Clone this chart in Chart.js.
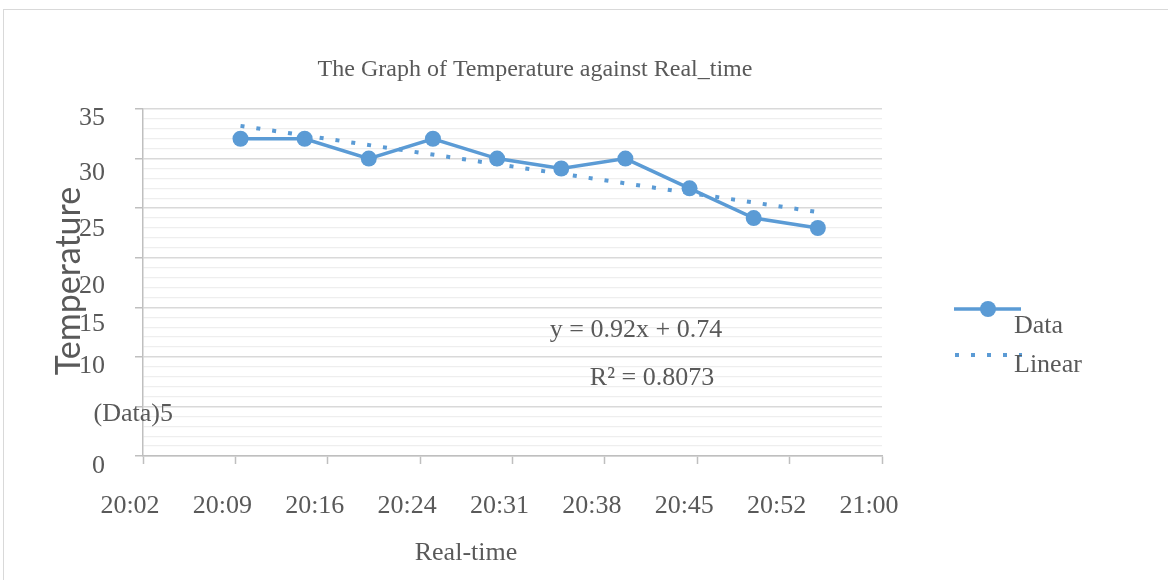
<!DOCTYPE html>
<html>
<head>
<meta charset="utf-8">
<script src="https://cdn.jsdelivr.net/npm/chart.js@4.4.1/dist/chart.umd.min.js"></script>
<style>
    body { margin: 0; background: #fff; overflow: hidden; }
    #wrap { position: relative; width: 1168px; height: 580px; }
    #frame { position: absolute; left: 3px; top: 9px; width: 1200px; height: 600px; border: 1px solid #d9d9d9; }
</style>
</head>
<body>
<div id="wrap">
    <div id="frame"></div>
    <canvas id="myChart"></canvas>
</div>
<script>
// data
const times = ['20:10', '20:15', '20:20', '20:25', '20:30', '20:35', '20:40', '20:45', '20:50', '20:55'];
const temperature = [32, 32, 30, 32, 30, 29, 30, 27, 24, 23];
const trendTimes = ['20:10', '20:55'];
const trendValues = [33.3, 24.6];
const xTickLabels = ['20:02', '20:09', '20:16', '20:24', '20:31', '20:38', '20:45', '20:52', '21:00'];
const yTickValues = [0, 5, 10, 15, 20, 25, 30, 35];
const yTickLabels = ['0', '(Data)5', '10', '15', '20', '25', '30', '35'];
const equationText = 'y = 0.92x + 0.74';
const r2Text = 'R² = 0.8073';

// label nudges (layout only)
const yLabelNudge = [[0, 10], [68, 8], [0, 9], [0, 17], [0, 28], [0, 21], [0, 15], [0, 9]];

const blue = '#5B9BD5';
const textGrey = '#595959';
const serif = '"Liberation Serif", "Times New Roman", serif';

function toMinutes(t) {
    const parts = t.split(':').map(Number);
    return (parts[0] - 20) * 60 + parts[1];
}

const xMin = 2.4, xMax = 60, xStep = 7.2;

const textPlugin = {
    id: 'texts',
    afterDraw(chart) {
        const ctx = chart.ctx;
        const yScale = chart.scales.y;
        ctx.save();
        ctx.fillStyle = textGrey;
        ctx.textBaseline = 'middle';

        // title
        ctx.font = '24px ' + serif;
        ctx.textAlign = 'center';
        ctx.fillText('The Graph of Temperature against Real_time', 535, 70);

        // x title
        ctx.font = '26px ' + serif;
        ctx.fillText('Real-time', 466, 553);

        // equation
        ctx.fillText(equationText, 636, 330);
        ctx.fillText(r2Text, 652, 378);

        // y tick labels
        ctx.textAlign = 'right';
        yTickValues.forEach((v, i) => {
            const py = yScale.getPixelForValue(v);
            ctx.fillText(yTickLabels[i], 105 + yLabelNudge[i][0], py + yLabelNudge[i][1]);
        });

        // y title
        ctx.save();
        ctx.translate(69, 281);
        ctx.rotate(-Math.PI / 2);
        ctx.textAlign = 'center';
        ctx.font = '34px Lato, "Open Sans", sans-serif';
        ctx.fillText('Temperature', 0, 0);
        ctx.restore();

        // legend
        const ds = chart.data.datasets;
        ctx.textAlign = 'left';
        ctx.font = '26px ' + serif;
        ctx.strokeStyle = blue;
        ctx.fillStyle = blue;
        ctx.lineWidth = 3.5;
        ctx.beginPath();
        ctx.moveTo(954, 309);
        ctx.lineTo(1021, 309);
        ctx.stroke();
        ctx.beginPath();
        ctx.arc(988, 309, 8, 0, Math.PI * 2);
        ctx.fill();
        ctx.lineWidth = 4;
        ctx.setLineDash([4, 12]);
        ctx.beginPath();
        ctx.moveTo(955, 355);
        ctx.lineTo(1022, 355);
        ctx.stroke();
        ctx.setLineDash([]);
        ctx.fillStyle = textGrey;
        ctx.fillText(ds[1].label, 1014, 326);
        ctx.fillText(ds[0].label, 1014, 365);
        ctx.restore();
    }
};

let ctx = document.getElementById('myChart').getContext('2d');

let myChart = new Chart(ctx, {
    type: 'line',
    data: {
        datasets: [{
                label: 'Linear',
                data: trendTimes.map((t, i) => ({ x: toMinutes(t), y: trendValues[i] })),
                borderColor: blue,
                backgroundColor: 'transparent',
                borderWidth: 4,
                borderDash: [4, 12],
                borderCapStyle: 'butt',
                pointRadius: 0,
                tension: 0,
            },
            {
                label: 'Data',
                data: times.map((t, i) => ({ x: toMinutes(t), y: temperature[i] })),
                borderColor: blue,
                backgroundColor: blue,
                borderWidth: 3.5,
                pointRadius: 8,
                pointBorderWidth: 0,
                pointBackgroundColor: blue,
                tension: 0,
            },
        ],
    },
    options: {
        responsive: true,
        maintainAspectRatio: false,
        animation: false,
        layout: {
            padding: { left: 0, top: 109, right: 286, bottom: 0 }
        },
        scales: {
            x: {
                type: 'linear',
                min: xMin,
                max: xMax,
                afterBuildTicks: function(scale) {
                    scale.ticks = xTickLabels.map((l, i) => ({ value: xMin + i * xStep }));
                },
                afterFit: function(scale) {
                    scale.height = 124;
                },
                grid: {
                    drawOnChartArea: false,
                    tickLength: 8,
                    tickColor: '#BFBFBF',
                    tickWidth: 1.5,
                },
                border: { color: '#BFBFBF', width: 1.5 },
                ticks: {
                    autoSkip: false,
                    maxRotation: 0,
                    labelOffset: -13,
                    padding: 27,
                    color: textGrey,
                    font: { family: serif, size: 26 },
                    callback: function(value, index) {
                        return xTickLabels[index];
                    }
                }
            },
            y: {
                min: 0,
                max: 35,
                afterBuildTicks: function(scale) {
                    const t = [];
                    for (let v = 0; v <= 35; v++) t.push({ value: v });
                    scale.ticks = t;
                },
                afterFit: function(scale) {
                    scale.width = 143;
                },
                grid: {
                    color: c => (c.tick && c.tick.value % 5 === 0) ? '#D9D9D9' : '#EEEEEE',
                    lineWidth: c => (c.tick && c.tick.value % 5 === 0) ? 1.5 : 1.2,
                    tickColor: c => (c.tick && c.tick.value % 5 === 0) ? '#BFBFBF' : 'transparent',
                    tickLength: 8,
                },
                border: { color: '#BFBFBF', width: 1.5 },
                ticks: { display: false }
            }
        },
        plugins: {
            legend: { display: false },
            tooltip: { enabled: false }
        }
    },
    plugins: [textPlugin]
});
</script>
</body>
</html>
